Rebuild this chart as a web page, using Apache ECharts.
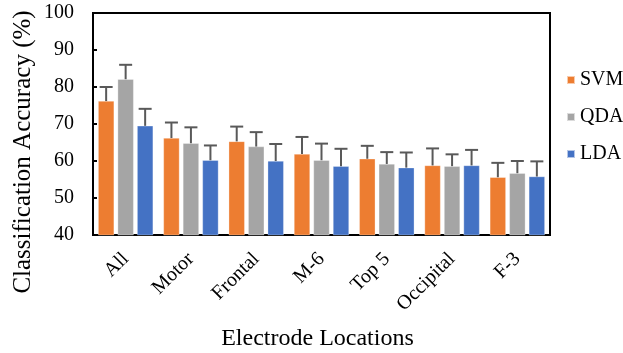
<!DOCTYPE html>
<html><head><meta charset="utf-8">
<script src="https://cdn.jsdelivr.net/npm/echarts@6/dist/echarts.min.js"></script>
<style>html,body{margin:0;padding:0;background:#fff}#c{width:623px;height:353px}</style>
</head><body><div id="c"></div>
<script>
const categories = ['All','Motor','Frontal','M-6','Top 5','Occipital','F-3'];
const seriesNames = ['SVM','QDA','LDA'];
const svm = [76.2, 66.2, 65.3, 61.9, 60.6, 58.8, 55.6];
const qda = [82.1, 64.8, 63.9, 60.2, 59.2, 58.6, 56.7];
const lda = [69.5, 60.2, 60.0, 58.6, 58.2, 58.8, 55.8];
const svmErr = [3.8, 4.2, 4.0, 4.6, 3.5, 4.6, 3.9];
const qdaErr = [3.9, 4.3, 3.9, 4.5, 3.2, 3.2, 3.3];
const ldaErr = [4.6, 4.0, 4.6, 4.7, 4.1, 4.2, 4.1];
const colors = ['#ED7D31','#A5A5A5','#4472C4'];
const yTicks = [40,50,60,70,80,90,100];
const xTitle = 'Electrode Locations';
const yTitle = 'Classification Accuracy (%)';

const vals = [svm, qda, lda];
const errs = [svmErr, qdaErr, ldaErr];
const BW = 16, GAP = 3.5;
const font = 'Liberation Serif, Times New Roman, serif';

const series = [];
vals.forEach((v,i)=>{
  series.push({name: seriesNames[i], type:'bar', data:v, barWidth:BW, barGap:(GAP/BW*100)+'%',
    itemStyle:{color:colors[i], borderColor:'rgba(255,255,255,0.6)', borderWidth:0.5}, z:2});
});
vals.forEach((v,i)=>{
  series.push({type:'custom', z:3, silent:true,
    data: v.map((val,k)=>[k, val, val+errs[i][k]]),
    renderItem:function(params, api){
      const off = (i-1)*(BW+GAP);
      const p0 = api.coord([api.value(0), api.value(1)]);
      const p1 = api.coord([api.value(0), api.value(2)]);
      const x = p0[0]+off;
      const st = {stroke:'#595959', lineWidth:2};
      return {type:'group', children:[
        {type:'line', shape:{x1:x,y1:p0[1],x2:x,y2:p1[1]}, style:st},
        {type:'line', shape:{x1:x-6.5,y1:p1[1],x2:x+6.5,y2:p1[1]}, style:st}
      ]};
    }
  });
});

const chart = echarts.init(document.getElementById('c'));
chart.setOption({
  animation:false,
  color:colors,
  grid:{left:93, top:13, right:73, bottom:118, show:true, borderColor:'#000', borderWidth:2,
    backgroundColor:'transparent', containLabel:false, outerBoundsMode:'none'},
  legend:{data:seriesNames, orient:'vertical', left:561, top:65, itemWidth:8, itemHeight:8, icon:'rect', itemGap:17,
    textStyle:{fontFamily:font, fontSize:20, color:'#000'}},
  graphic:[{type:'text', x:23, y:152, rotation:Math.PI/2,
    style:{text:yTitle, font:'25px ' + font, fill:'#000', textAlign:'center', textVerticalAlign:'middle'}}],
  xAxis:{type:'category', data:categories,
    axisLine:{lineStyle:{color:'#000', width:2}}, axisTick:{show:false},
    axisLabel:{rotate:45, fontFamily:font, fontSize:20, color:'#000', margin:21},
    name:xTitle, nameLocation:'middle', nameGap:92,
    nameTextStyle:{fontFamily:font, fontSize:24, color:'#000', padding:[0,8,0,0]}},
  yAxis:{type:'value', min:40, max:100, interval:10,
    axisLine:{show:true, lineStyle:{color:'#000', width:2}},
    axisTick:{show:true, inside:true, length:4, lineStyle:{color:'#000', width:2}},
    splitLine:{show:false},
    axisLabel:{fontFamily:font, fontSize:20, color:'#000', margin:19,
      formatter:function(v){return yTicks.indexOf(v)>=0? String(v):'';}},
    name:'', },
  series:series
});
</script></body></html>
